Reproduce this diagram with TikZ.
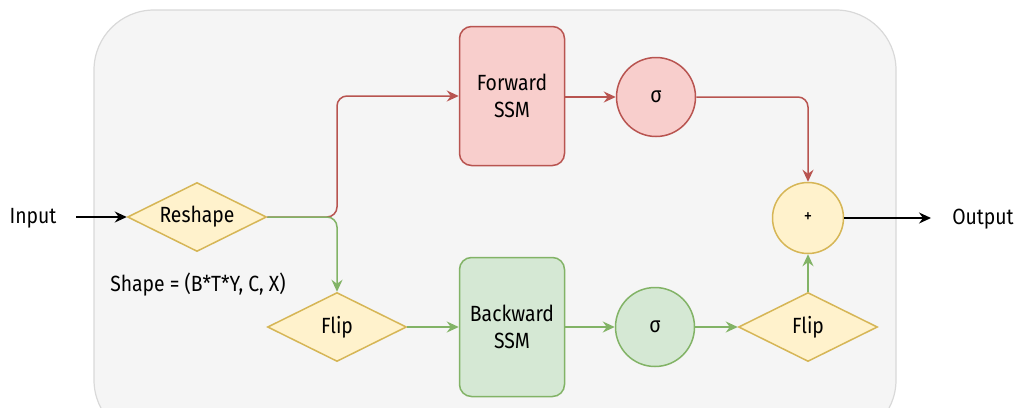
\documentclass[tikz,border=0pt]{standalone}
\usepackage{fontspec}
\setmainfont[FakeStretch=0.88]{Fira Sans}
\usetikzlibrary{shapes.geometric,arrows.meta}
\definecolor{redS}{HTML}{B85450}
\definecolor{redF}{HTML}{F8CECC}
\definecolor{greenS}{HTML}{82B366}
\definecolor{greenF}{HTML}{D5E8D4}
\definecolor{yelS}{HTML}{D6B656}
\definecolor{yelF}{HTML}{FFF2CC}
\definecolor{bgF}{HTML}{F5F5F5}
\definecolor{bgS}{HTML}{D9D9D9}
\begin{document}
\begin{tikzpicture}[x=1pt,y=-1pt,
  font=\fontsize{22}{27}\selectfont,
  every node/.style={line width=1.5pt},
  ssm/.style={draw, rounded corners=12pt, minimum width=105pt, minimum height=139pt, align=center, inner sep=0pt},
  redbox/.style={ssm, draw=redS, fill=redF},
  greenbox/.style={ssm, draw=greenS, fill=greenF},
  dia/.style={diamond, draw=yelS, fill=yelF, aspect=2, minimum width=139pt, minimum height=69pt, inner sep=0pt},
  sig/.style={circle, minimum size=79pt, inner sep=0pt},
  tip/.style={-{Stealth[length=12pt,width=11pt,inset=4pt]}},
  redline/.style={tip, draw=redS, line width=1.5pt, rounded corners=10pt},
  greenline/.style={tip, draw=greenS, line width=1.5pt, rounded corners=10pt},
  blackline/.style={tip, draw=black, line width=1.5pt}
]
\useasboundingbox (0,0) rectangle (1014,407);
\begin{scope}
  \clip (0,0) rectangle (1014,407);
  \draw[fill=bgF, draw=bgS, line width=1.2pt, rounded corners=60pt] (94,10) rectangle (896,440);
\end{scope}

% labels
\node (input) at (33,218) {Input};
\node (output) at (983,219) {Output};
\node (shape) at (198,285) {Shape = (B*T*Y, C, X)};

% blocks
\node[dia] (reshape) at (197,217) {Reshape};
\node[redbox] (fwd) at (512,96) {Forward\\SSM};
\node[sig, draw=redS, fill=redF] (sigF) at (656,97) {σ};
\node[sig, minimum size=71pt, draw=yelS, fill=yelF] (plus) at (808,218) {\fontsize{19}{22}\selectfont +};
\node[dia] (flipL) at (337,327) {Flip};
\node[greenbox] (bwd) at (512,327) {Backward\\SSM};
\node[sig, draw=greenS, fill=greenF] (sigB) at (655,327) {σ};
\node[dia] (flipR) at (808,327) {Flip};

% connectors
\coordinate (inStart) at (76,217);
\coordinate (outEnd) at (931,218);
\draw[blackline] (inStart) -- (reshape.west);
\draw[blackline] (plus.east) -- (outEnd);
\draw[redline] (reshape.east) -| (flipL.north |- fwd.west) -- (fwd.west);
\draw[greenline] (reshape.east) -| (flipL.north);
\draw[redline] (fwd.east |- sigF.west) -- (sigF.west);
\draw[redline] (sigF.east) -| (plus.north);
\draw[greenline] (flipL.east) -- (bwd.west);
\draw[greenline] (bwd.east |- sigB.west) -- (sigB.west);
\draw[greenline] (sigB.east) -- (flipR.west);
\draw[greenline] (flipR.north) -- (plus.south);
\end{tikzpicture}
\end{document}
